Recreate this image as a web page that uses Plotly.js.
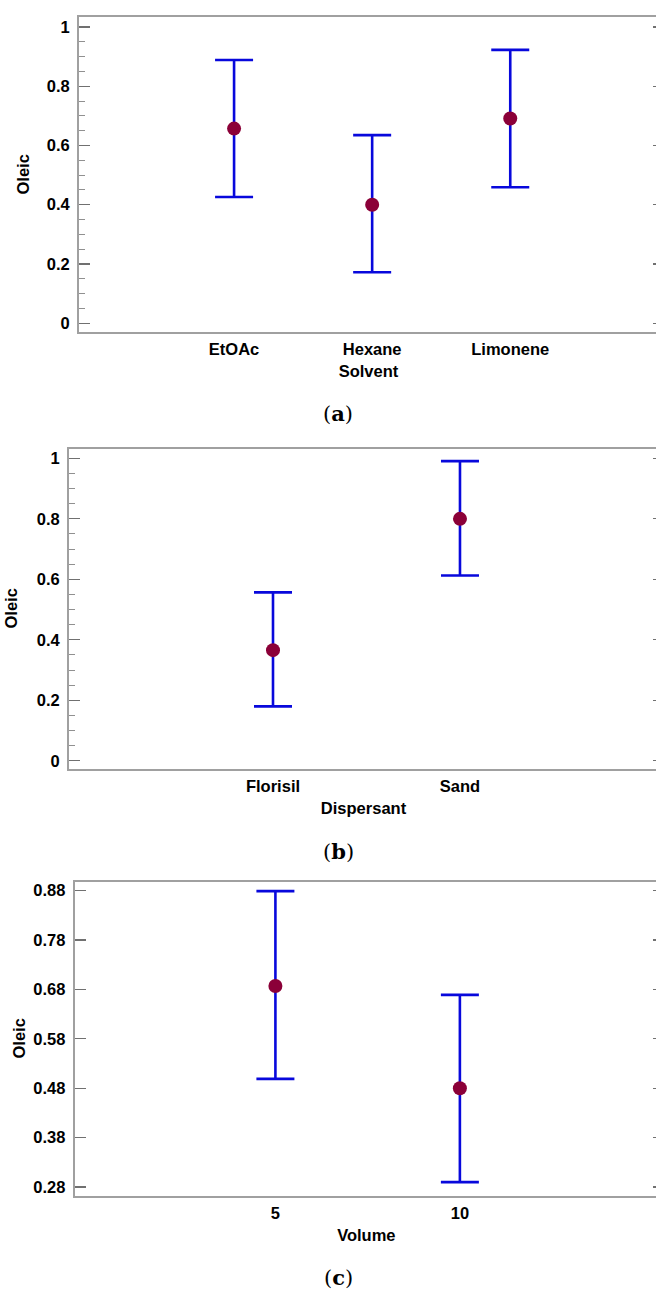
<!DOCTYPE html>
<html>
<head>
<meta charset="utf-8">
<script src="https://cdn.plot.ly/plotly-3.0.1.min.js"></script>
<style>
html,body{margin:0;padding:0;background:#fff;overflow:hidden;}
#chart{width:658px;height:1295px;}
</style>
</head>
<body>
<div id="chart"></div>
<script>
// ---- data ----
const solventCats = ['EtOAc', 'Hexane', 'Limonene'];
const solventMean = [0.657, 0.400, 0.691];
const solventUpper = [0.889, 0.635, 0.923];
const solventLower = [0.426, 0.172, 0.459];

const dispersantCats = ['Florisil', 'Sand'];
const dispersantMean = [0.366, 0.800];
const dispersantUpper = [0.557, 0.991];
const dispersantLower = [0.180, 0.613];

const volumeCats = ['5', '10'];
const volumeMean = [0.687, 0.480];
const volumeUpper = [0.879, 0.669];
const volumeLower = [0.499, 0.290];

const yTitle = 'Oleic';
const xTitles = ['Solvent', 'Dispersant', 'Volume'];
const captions = ['a', 'b', 'c'];

// ---- styling ----
const W = 658, H = 1295;
const markerColor = '#8b0038';
const barColor = '#0808dc';
const lineColor = '#a0a0a0';
const FONT = 'Liberation Sans, Arial, sans-serif';
const tickFont = {family: FONT, size: 16.5, color: '#000', weight: 'bold'};
const titleFont = {family: FONT, size: 16.5, color: '#000', weight: 'bold'};

function trace(cats, mean, upper, lower, ax) {
  return {
    type: 'scatter', mode: 'markers',
    x: cats, y: mean,
    xaxis: 'x' + ax, yaxis: 'y' + ax,
    marker: {color: markerColor, size: 14},
    error_y: {
      type: 'data', symmetric: false,
      array: upper.map((u, i) => u - mean[i]),
      arrayminus: lower.map((l, i) => mean[i] - l),
      color: barColor, thickness: 2.6, width: 19
    },
    hoverinfo: 'x+y', showlegend: false
  };
}
function ghost(cats, ax) {
  return {type: 'scatter', mode: 'markers', x: [cats[0]], y: [null],
          xaxis: 'x' + ax, yaxis: 'y' + ax, hoverinfo: 'skip', showlegend: false,
          marker: {opacity: 0}};
}

const data = [
  trace(solventCats, solventMean, solventUpper, solventLower, ''),
  trace(dispersantCats, dispersantMean, dispersantUpper, dispersantLower, '2'),
  trace(volumeCats, volumeMean, volumeUpper, volumeLower, '3'),
  ghost(solventCats, '4'), ghost(dispersantCats, '5'), ghost(volumeCats, '6')
];

function xa(left, range, title) {
  return {
    type: 'category',
    domain: [left / W, 1],
    range: range,
    showgrid: false, zeroline: false,
    showline: true, linecolor: lineColor, linewidth: 2, mirror: true,
    ticks: '', tickfont: tickFont,
    ticklabelstandoff: 1,
    title: {text: title, font: titleFont, standoff: 9},
    fixedrange: true
  };
}
function ya(top, bottom, range, dtick, tick0, minor) {
  const o = {
    domain: [1 - bottom / H, 1 - top / H],
    range: range,
    showgrid: false, zeroline: false,
    showline: true, linecolor: lineColor, linewidth: 2, mirror: true,
    ticks: 'inside', ticklen: 11, tickwidth: 1.2, tickcolor: '#707070',
    tick0: tick0, dtick: dtick,
    tickfont: tickFont,
    ticklabelstandoff: 4,
    fixedrange: true
  };
  if (minor) {
    o.minor = {ticks: 'inside', ticklen: 6, dtick: minor, tickcolor: '#909090', tickwidth: 1, showgrid: false};
  }
  return o;
}
function yRight(base, over, xAnchor) {
  return {
    overlaying: over, side: 'right', anchor: xAnchor,
    range: base.range, tick0: base.tick0, dtick: base.dtick,
    showgrid: false, zeroline: false, showline: false,
    ticks: 'inside', ticklen: 5, tickwidth: 1.2, tickcolor: '#707070',
    showticklabels: false, fixedrange: true
  };
}
function xHidden(base, over) {
  return {type: 'category', overlaying: over, range: base.range, visible: false, fixedrange: true};
}

const panels = [
  {x: xa(79, [-1.123, 3.07], xTitles[0]),   y: ya(17, 332, [-0.030, 1.034], 0.2, 0, 0.05)},
  {x: xa(69, [-1.091, 2.059], xTitles[1]),  y: ya(449, 769, [-0.027, 1.031], 0.2, 0, 0.05)},
  {x: xa(74.7, [-1.088, 2.074], xTitles[2]), y: ya(881.7, 1196, [0.262, 0.898], 0.1, 0.28, null)}
];
const yTitleX = [22, 10.5, 18.5];
const yTitleY = [174.5, 609, 1039];

const layout = {
  width: W, height: H,
  margin: {l: 0, r: 0, t: 0, b: 0},
  paper_bgcolor: '#fff', plot_bgcolor: '#fff',
  showlegend: false,
  xaxis: Object.assign(panels[0].x, {anchor: 'y'}),
  yaxis: Object.assign(panels[0].y, {anchor: 'x'}),
  xaxis2: Object.assign(panels[1].x, {anchor: 'y2'}),
  yaxis2: Object.assign(panels[1].y, {anchor: 'x2'}),
  xaxis3: Object.assign(panels[2].x, {anchor: 'y3'}),
  yaxis3: Object.assign(panels[2].y, {anchor: 'x3'}),
  xaxis4: xHidden(panels[0].x, 'x'),
  yaxis4: yRight(panels[0].y, 'y', 'x'),
  xaxis5: xHidden(panels[1].x, 'x2'),
  yaxis5: yRight(panels[1].y, 'y2', 'x2'),
  xaxis6: xHidden(panels[2].x, 'x3'),
  yaxis6: yRight(panels[2].y, 'y3', 'x3'),
  annotations: [
    {y: 413, l: captions[0]},
    {y: 851, l: captions[1]},
    {y: 1277, l: captions[2]}
  ].map(c => ({
    xref: 'paper', yref: 'paper',
    x: 338 / W, y: 1 - c.y / H,
    xanchor: 'center', yanchor: 'middle',
    showarrow: false,
    text: '(<b>' + c.l + '</b>)',
    font: {family: 'DejaVu Serif, Liberation Serif, serif', size: 21, color: '#000'}
  })).concat(yTitleX.map((px, i) => ({
    xref: 'paper', yref: 'paper',
    x: px / W, y: 1 - yTitleY[i] / H,
    xanchor: 'center', yanchor: 'middle',
    showarrow: false, textangle: -90,
    text: yTitle,
    font: titleFont
  })))
};

Plotly.newPlot('chart', data, layout, {displayModeBar: false, staticPlot: true});
</script>
</body>
</html>
